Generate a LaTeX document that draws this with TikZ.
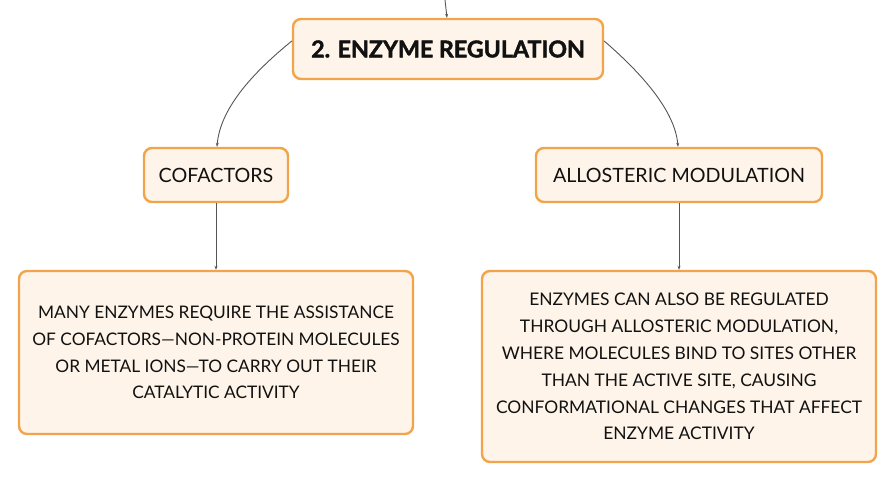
\documentclass[tikz,border=0pt]{standalone}
\usepackage{fontspec}
\setmainfont{Lato}
\newfontfamily\heavyfont[FakeBold=1.8]{Lato}
\usetikzlibrary{arrows.meta}
\definecolor{boxborder}{HTML}{F2A44B}
\definecolor{boxfill}{HTML}{FEF4E9}
\definecolor{linkgray}{HTML}{555555}
\definecolor{textcol}{HTML}{111111}
\tikzset{
  box/.style={draw=boxborder, fill=boxfill, line width=2.4pt, rounded corners=8pt,
    inner sep=0pt, align=center, text=textcol},
  link/.style={draw=linkgray, line width=0.9pt, -{Stealth[length=4pt,width=3pt]}},
}
\begin{document}
\begin{tikzpicture}[x=1pt,y=-1pt]
\useasboundingbox (0,0) rectangle (896,483);
\node[box, minimum width=310pt, minimum height=60pt,
  font=\fontsize{23.2}{27}\selectfont\heavyfont\bfseries] (title) at (448,49) {2. ENZYME REGULATION};
\node[box, minimum width=144pt, minimum height=54pt,
  font=\fontsize{19.7}{23}\selectfont] (cof) at (216,175) {COFACTORS};
\node[box, minimum width=286pt, minimum height=54pt,
  font=\fontsize{19.7}{23}\selectfont] (allo) at (679,175) {ALLOSTERIC MODULATION};
\node[box, minimum width=394pt, minimum height=163pt,
  font=\fontsize{17.3}{26.7}\selectfont] (cofdesc) at (216,352.5)
  {MANY ENZYMES REQUIRE THE ASSISTANCE\\OF COFACTORS—NON-PROTEIN MOLECULES\\OR METAL IONS—TO CARRY OUT THEIR\\CATALYTIC ACTIVITY};
\node[box, minimum width=394pt, minimum height=191pt,
  font=\fontsize{17.4}{26.9}\selectfont] (allodesc) at (679,366.5)
  {ENZYMES CAN ALSO BE REGULATED\\THROUGH ALLOSTERIC MODULATION,\\WHERE MOLECULES BIND TO SITES OTHER\\THAN THE ACTIVE SITE, CAUSING\\CONFORMATIONAL CHANGES THAT AFFECT\\ENZYME ACTIVITY};
\coordinate (topin) at (445,0);
\draw[link] (topin) -- ([xshift=-1pt]title.north);
\draw[link] ([yshift=8pt]title.west) .. controls (250,75) and (220,110) .. ([xshift=1pt]cof.north);
\draw[link] ([yshift=8pt]title.east) .. controls (640,72) and (675,110) .. ([xshift=-1pt]allo.north);
\draw[link] (cof.south) -- (cofdesc.north);
\draw[link] (allo.south) -- (allodesc.north);
\end{tikzpicture}
\end{document}
